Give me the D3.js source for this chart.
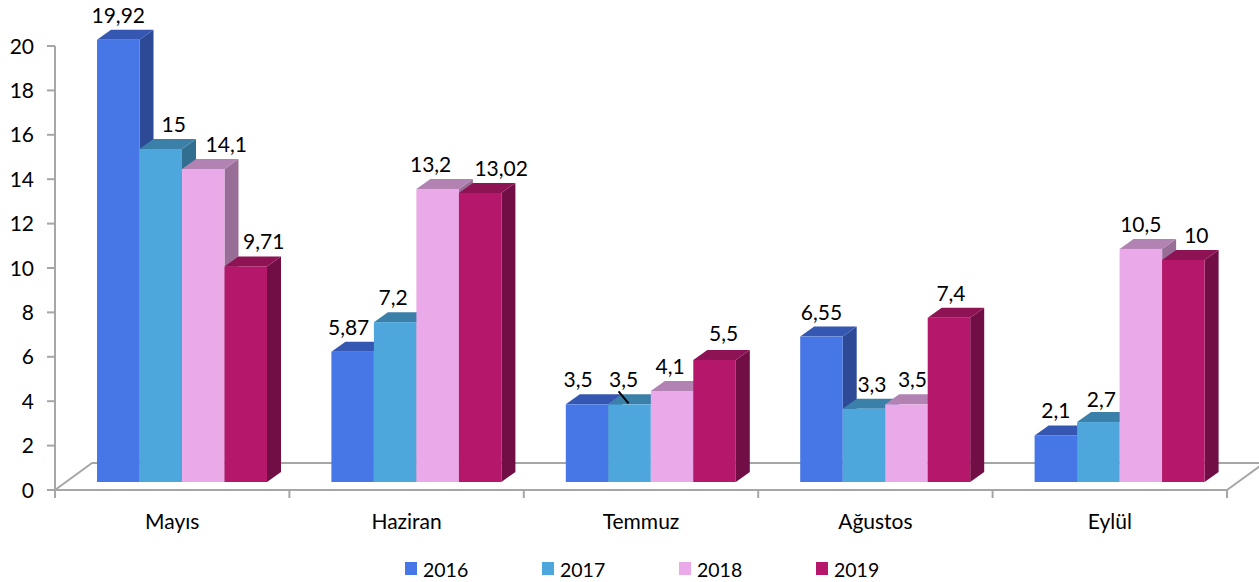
<!DOCTYPE html>
<html>
<head>
<meta charset="utf-8">
<script src="https://cdn.jsdelivr.net/npm/d3@7"></script>
<style>
  html, body { margin: 0; padding: 0; background: #fff; }
  svg { display: block; }
  text { font-family: Lato, "Open Sans", sans-serif; fill: #000; }
</style>
</head>
<body>
<svg id="chart" width="1259" height="582"></svg>
<script>
// ---------- data ----------
const categories = ["Mayıs", "Haziran", "Temmuz", "Ağustos", "Eylül"];
const seriesNames = ["2016", "2017", "2018", "2019"];
const values2016 = [19.92, 5.87, 3.5, 6.55, 2.1];
const values2017 = [15, 7.2, 3.5, 3.3, 2.7];
const values2018 = [14.1, 13.2, 4.1, 3.5, 10.5];
const values2019 = [9.71, 13.02, 5.5, 7.4, 10];
const labels2016 = ["19,92", "5,87", "3,5", "6,55", "2,1"];
const labels2017 = ["15", "7,2", "3,5", "3,3", "2,7"];
const labels2018 = ["14,1", "13,2", "4,1", "3,5", "10,5"];
const labels2019 = ["9,71", "13,02", "5,5", "7,4", "10"];
const yTicks = [0, 2, 4, 6, 8, 10, 12, 14, 16, 18, 20];

// ---------- style / layout ----------
const frontColors = ["#4776E6", "#4EA7DC", "#EAA9E8", "#B5186B"];
const topColors   = ["#3557B1", "#3A80A8", "#B283B2", "#8D1355"];
const sideColors  = ["#2D4A96", "#316E90", "#986E97", "#700E45"];
// label nudges (layout only): [category index][series index] -> [dx, dy]
const labelNudge = [
  [[0,0],[13,0],[23,0],[18,0]],
  [[-4,0],[-2,0],[-7,0],[21,0]],
  [[-9,0],[-6,0],[-2,0],[9,-2]],
  [[0,0],[8,0],[6,0],[2,0]],
  [[0,0],[3,2],[0,0],[13,0]]
];

const valuesBySeries = [values2016, values2017, values2018, values2019];
const labelsBySeries = [labels2016, labels2017, labels2018, labels2019];

const svg = d3.select("#chart");

const x0 = 55, x1 = 1227;
const y = d3.scaleLinear().domain([0, 20]).range([490, 46]);
const xBand = d3.scaleBand().domain(categories).range([x0, x1]).paddingInner(0).paddingOuter(0);
const groupLeftPad = 42, groupWidth = 170;
const xSeries = d3.scaleBand().domain(seriesNames).range([0, groupWidth]).padding(0);
const barBaseShift = 8;      // bars sit mid-depth on the floor
const depthX = 14, depthY = -10;   // bar depth
const floorDX = 37, floorDY = -27; // floor depth

// ---------- floor ----------
const floorFront = y(0);
svg.append("polygon")
  .attr("points", [
    [x0, floorFront], [x0 + floorDX, floorFront + floorDY],
    [x1 + floorDX, floorFront + floorDY], [x1, floorFront]
  ].map(p => p.join(",")).join(" "))
  .attr("fill", "#fff")
  .attr("stroke", "#a6a6a6")
  .attr("stroke-width", 2)
  .attr("stroke-linejoin", "round");

// ---------- y axis ----------
const yAxisG = svg.append("g");
yAxisG.append("line")
  .attr("x1", x0).attr("x2", x0)
  .attr("y1", y(20)).attr("y2", floorFront + 8)
  .attr("stroke", "#a6a6a6").attr("stroke-width", 2);
yAxisG.selectAll("line.tick").data(yTicks).enter().append("line")
  .attr("class", "tick")
  .attr("x1", x0 - 8).attr("x2", x0)
  .attr("y1", d => y(d)).attr("y2", d => y(d))
  .attr("stroke", "#a6a6a6").attr("stroke-width", 2);
yAxisG.selectAll("text").data(yTicks).enter().append("text")
  .attr("x", 34).attr("y", d => y(d))
  .attr("dy", "0.36em")
  .attr("text-anchor", "end")
  .attr("font-size", 21)
  .text(d => d);

// ---------- category axis ticks & labels ----------
const catBounds = categories.map(c => xBand(c)).concat([x1]);
svg.selectAll("line.cattick").data(catBounds.slice(1)).enter().append("line")
  .attr("class", "cattick")
  .attr("x1", d => d).attr("x2", d => d)
  .attr("y1", floorFront).attr("y2", floorFront + 8)
  .attr("stroke", "#a6a6a6").attr("stroke-width", 2);
svg.selectAll("text.cat").data(categories).enter().append("text")
  .attr("class", "cat")
  .attr("x", d => xBand(d) + xBand.bandwidth() / 2)
  .attr("y", 529)
  .attr("text-anchor", "middle")
  .attr("font-size", 21)
  .text(d => d);

// ---------- bars ----------
const barsG = svg.append("g");
const labelG = svg.append("g");
const baseY = v => y(v) - barBaseShift;
const bw = xSeries.bandwidth();

categories.forEach((cat, ci) => {
  seriesNames.forEach((s, si) => {
    const v = valuesBySeries[si][ci];
    const left = xBand(cat) + groupLeftPad + xSeries(s);
    const right = left + bw;
    const top = baseY(v);
    const bottom = baseY(0);
    const g = barsG.append("g");
    // side face
    g.append("polygon")
      .attr("points", [[right, bottom], [right + depthX, bottom + depthY],
                       [right + depthX, top + depthY], [right, top]].map(p => p.join(",")).join(" "))
      .attr("fill", sideColors[si]);
    // top face
    g.append("polygon")
      .attr("points", [[left, top], [left + depthX, top + depthY],
                       [right + depthX, top + depthY], [right, top]].map(p => p.join(",")).join(" "))
      .attr("fill", topColors[si]);
    // front face
    g.append("rect")
      .attr("x", left).attr("y", top)
      .attr("width", bw).attr("height", bottom - top)
      .attr("fill", frontColors[si]);

    const nd = labelNudge[ci][si];
    labelG.append("text")
      .attr("x", left + bw / 2 + nd[0])
      .attr("y", top - 17 + nd[1])
      .attr("text-anchor", "middle")
      .attr("font-size", 21)
      .text(labelsBySeries[si][ci]);

    // leader line for the moved Temmuz 2017 label
    if (ci === 2 && si === 1) {
      labelG.append("line")
        .attr("x1", left + bw / 2 + nd[0] - 5).attr("y1", top - 13)
        .attr("x2", left + bw / 2 + nd[0] + 5).attr("y2", top - 1)
        .attr("stroke", "#000").attr("stroke-width", 2);
    }
  });
});

// ---------- legend ----------
const legendX = d3.scalePoint().domain(seriesNames).range([405, 816]);
const legend = svg.append("g");
seriesNames.forEach((s, si) => {
  const lx = legendX(s);
  legend.append("rect")
    .attr("x", lx).attr("y", 562)
    .attr("width", 12).attr("height", 13)
    .attr("fill", frontColors[si]);
  legend.append("text")
    .attr("x", lx + 18).attr("y", 577)
    .attr("font-size", 19.5)
    .text(s);
});
</script>
</body>
</html>
